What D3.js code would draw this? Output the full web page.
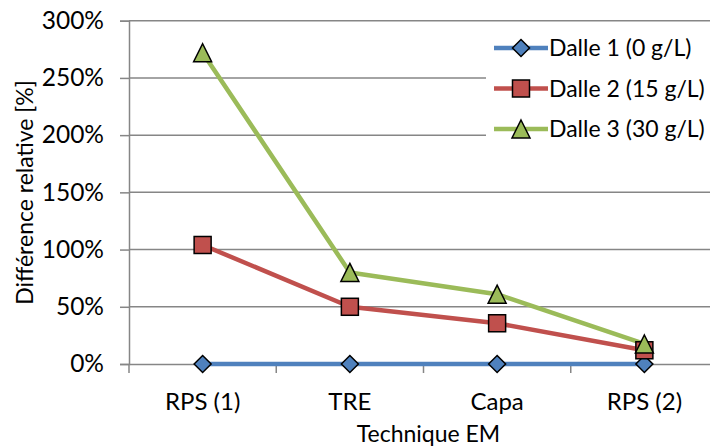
<!DOCTYPE html>
<html>
<head>
<meta charset="utf-8">
<script src="https://cdn.jsdelivr.net/npm/d3@7/dist/d3.min.js"></script>
<style>
  html, body { margin: 0; padding: 0; background: #fff; }
  svg text { font-family: Lato, "Open Sans", sans-serif; fill: #000; }
</style>
</head>
<body>
<svg id="chart" width="710" height="448"></svg>
<script>
const categories = ["RPS (1)", "TRE", "Capa", "RPS (2)"];
const seriesNames = ["Dalle 1 (0 g/L)", "Dalle 2 (15 g/L)", "Dalle 3 (30 g/L)"];
const dalle1 = [0, 0, 0, 0];
const dalle2 = [104, 50, 35.6, 12];
const dalle3 = [272, 80, 61, 17.5];
const yTicks = [0, 50, 100, 150, 200, 250, 300];
const colors = ["#4F81BD", "#C0504D", "#9BBB59"];
const markers = ["diamond", "square", "triangle"];
const xTitle = "Technique EM";
const yTitle = "Différence relative [%]";

const series = [dalle1, dalle2, dalle3].map((v, i) => ({
  name: seriesNames[i], values: v, color: colors[i], marker: markers[i]
}));

const FS = 23;
const svg = d3.select("#chart");
const pLeft = 129, pRight = 718, pTop = 20.7, pBottom = 364;

const x = d3.scaleBand().domain(categories).range([pLeft, pRight]);
const y = d3.scaleLinear().domain([0, 300]).range([pBottom, pTop]);
const cx = c => x(c) + x.bandwidth() / 2;

// gridlines
svg.append("g").selectAll("line").data(yTicks.filter(t => t > 0)).join("line")
  .attr("x1", pLeft).attr("x2", pRight)
  .attr("y1", d => y(d)).attr("y2", d => y(d))
  .attr("stroke", "#868686").attr("stroke-width", 1.5);

// y axis
const yAxis = svg.append("g").attr("transform", `translate(${pLeft},0)`)
  .call(d3.axisLeft(y).tickValues(yTicks).tickFormat(d => d + "%").tickSize(9).tickPadding(16));
yAxis.select(".domain").attr("stroke", "#868686").attr("stroke-width", 1.5);
yAxis.selectAll(".tick line").attr("stroke", "#868686").attr("stroke-width", 1.5);
yAxis.selectAll(".tick text").attr("font-size", 24.5).attr("font-family", "Lato");

// x axis
const xAxis = svg.append("g").attr("transform", `translate(0,${pBottom})`)
  .call(d3.axisBottom(x).tickSize(0).tickPadding(29));
xAxis.select(".domain").attr("stroke", "#868686").attr("stroke-width", 1.5);
xAxis.selectAll(".tick text").attr("font-size", 24).attr("font-family", "Lato");
// tick marks at category boundaries
const bounds = categories.map(c => x(c)).concat([pRight]);
svg.append("g").selectAll("line").data(bounds).join("line")
  .attr("x1", d => d).attr("x2", d => d)
  .attr("y1", pBottom).attr("y2", pBottom + 9)
  .attr("stroke", "#868686").attr("stroke-width", 1.5);

// axis titles
svg.append("text").attr("x", (pLeft + pRight) / 2 + 5).attr("y", 442)
  .attr("text-anchor", "middle").attr("font-size", FS).text(xTitle);
svg.append("text").attr("transform", `translate(33,192.5) rotate(-90)`)
  .attr("text-anchor", "middle").attr("font-size", FS).text(yTitle);

function drawMarker(g, type, px, py, color) {
  if (type === "diamond") {
    const s = 8.5;
    g.append("path").attr("d", `M${px},${py - s}L${px + s},${py}L${px},${py + s}L${px - s},${py}Z`)
      .attr("fill", color).attr("stroke", "#000").attr("stroke-width", 1.5);
  } else if (type === "square") {
    const s = 8.5;
    g.append("rect").attr("x", px - s).attr("y", py - s).attr("width", 2 * s).attr("height", 2 * s)
      .attr("fill", color).attr("stroke", "#000").attr("stroke-width", 1.5);
  } else {
    const s = 9;
    g.append("path").attr("d", `M${px},${py - s}L${px + s},${py + s}L${px - s},${py + s}Z`)
      .attr("fill", color).attr("stroke", "#000").attr("stroke-width", 1.5);
  }
}

const line = d3.line().x((d, i) => cx(categories[i])).y(d => y(d));
series.forEach(s => {
  svg.append("path").datum(s.values).attr("d", line)
    .attr("fill", "none").attr("stroke", s.color).attr("stroke-width", 4.5)
    .attr("stroke-linejoin", "round");
});
series.forEach(s => {
  const g = svg.append("g");
  s.values.forEach((v, i) => drawMarker(g, s.marker, cx(categories[i]), y(v), s.color));
});

// legend
const leg = svg.append("g");
leg.append("rect").attr("x", 486).attr("y", 26).attr("width", 230).attr("height", 124).attr("fill", "#fff");
const legY = [48, 88.5, 129];
series.forEach((s, i) => {
  leg.append("line").attr("x1", 494).attr("x2", 548).attr("y1", legY[i]).attr("y2", legY[i])
    .attr("stroke", s.color).attr("stroke-width", 4.5);
  drawMarker(leg, s.marker, 521, legY[i], s.color);
  leg.append("text").attr("x", 549).attr("y", legY[i]).attr("dy", "0.35em")
    .attr("font-size", 23).text(s.name);
});
</script>
</body>
</html>
